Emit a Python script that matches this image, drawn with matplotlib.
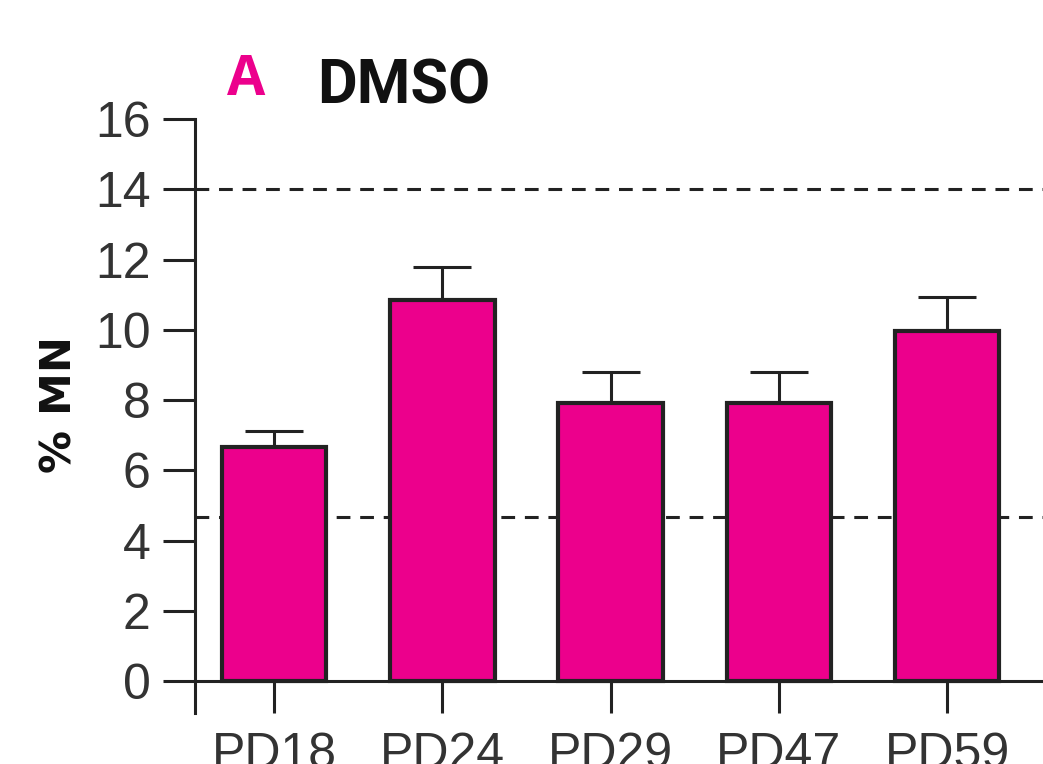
import numpy as np
from matplotlib import pyplot as plt

# data
samples = ['PD18', 'PD24', 'PD29', 'PD47', 'PD59']
mn_mean = [6.65, 10.85, 7.92, 7.92, 9.97]
mn_err = [0.48, 0.95, 0.88, 0.88, 0.97]
ref_upper = 14.0
ref_lower = 4.67
y_ticks = [0, 2, 4, 6, 8, 10, 12, 14, 16]

magenta = '#EC008C'
dark = '#222222'

plt.rcParams['font.family'] = ['Liberation Sans', 'DejaVu Sans']

fig = plt.figure(figsize=(10.43, 7.64), dpi=100)
ax = fig.add_axes([0.187, 0.0668, 0.813, 0.7774])

x = np.arange(len(samples))

# reference range lines
ax.axhline(ref_upper, color=dark, lw=2.2, ls=(0, (4.5, 3.2)), zorder=1)
ax.axhline(ref_lower, color=dark, lw=2.2, ls=(0, (4.5, 3.2)), zorder=1)

# upper error bars only
ax.errorbar(x, mn_mean, yerr=[np.zeros(len(x)), mn_err], fmt='none',
            ecolor=dark, elinewidth=2.2, capsize=21, capthick=2.2, zorder=2)
ax.bar(x, mn_mean, width=0.62, color=magenta, edgecolor=dark, linewidth=3.0, zorder=3)

ax.set_xlim(-0.47, 4.57)
ax.set_ylim(-0.91, 16)
ax.set_yticks(y_ticks)
ax.set_xticks(x)
ax.set_xticklabels(samples)

for s in ['top', 'right']:
    ax.spines[s].set_visible(False)
ax.spines['bottom'].set_position(('data', 0))
ax.spines['left'].set_bounds(-0.91, 16)
for s in ['left', 'bottom']:
    ax.spines[s].set_linewidth(2.2)
    ax.spines[s].set_color(dark)
    ax.spines[s].set_zorder(4)

ax.tick_params(axis='y', length=23, width=2.2, color=dark, pad=9,
               labelsize=36, labelcolor='#333333')
ax.tick_params(axis='x', length=23, width=2.2, color=dark, pad=14,
               labelsize=36, labelcolor='#333333')

ax.set_ylabel('% MN', fontsize=31, fontweight='bold', color='#111111',
              family=['DejaVu Sans'])
ax.yaxis.set_label_coords(-0.135, 0.52)

fig.text(0.218, 0.876, 'A', color=magenta, fontsize=40, fontweight='bold',
         family=['Open Sans', 'DejaVu Sans'])
fig.text(0.304, 0.865, 'DMSO', color='#111111', fontsize=44, fontweight='bold',
         family=['Roboto', 'DejaVu Sans'])

fig.savefig('out.png', dpi=100)
